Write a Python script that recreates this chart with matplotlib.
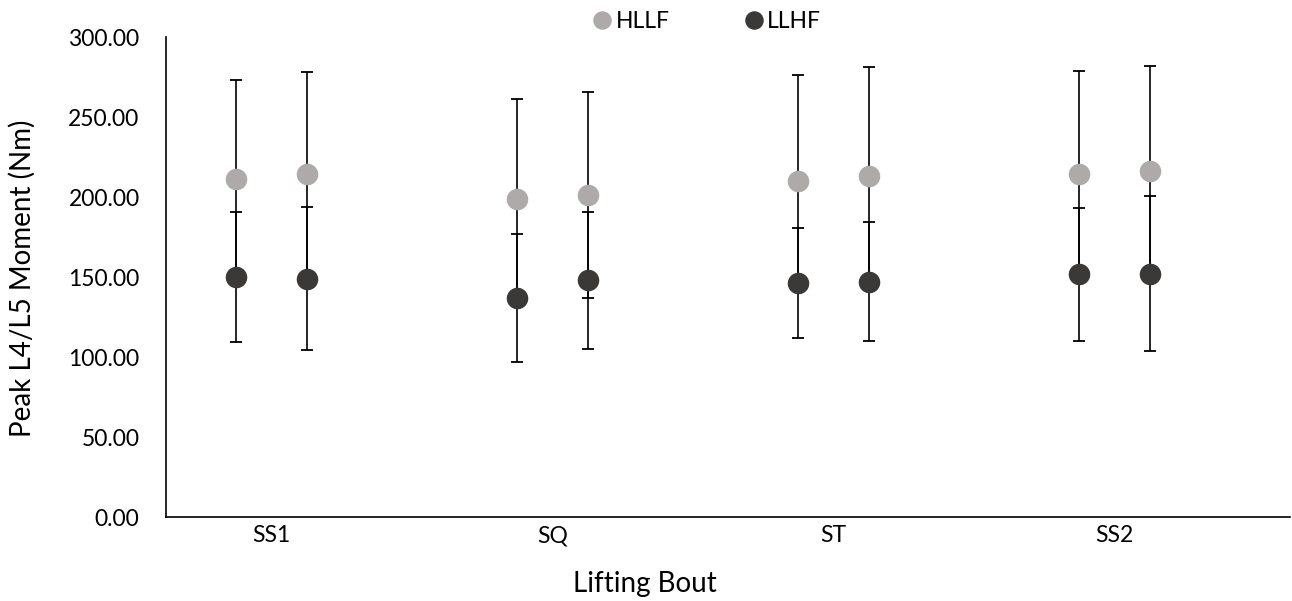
import matplotlib
matplotlib.use('Agg')
import matplotlib.pyplot as plt

# lifting bouts and the two trials per bout
bouts = ['SS1', 'SQ', 'ST', 'SS2']
x_pos = [1, 1.25, 2, 2.25, 3, 3.25, 4, 4.25]

# peak L4/L5 moment (Nm), mean and SD
hllf_mean = [211.2, 214.5, 198.5, 201.4, 210.0, 213.3, 214.1, 216.2]
hllf_sd = [61.9, 63.4, 62.9, 64.4, 66.2, 68.1, 64.6, 65.4]
llhf_mean = [150.2, 148.9, 137.0, 147.9, 146.4, 147.0, 151.6, 152.1]
llhf_sd = [40.6, 44.8, 39.9, 42.9, 34.4, 37.3, 41.8, 48.6]

grey = '#AEAAAA'
dark = '#3B3838'

plt.rcParams['font.family'] = ['Lato', 'DejaVu Sans']

fig = plt.figure(figsize=(12.92, 6.01), dpi=100)
ax = fig.add_axes([166 / 1292, 1 - 517 / 601, (1290 - 166) / 1292, 480 / 601])

err_kw = dict(fmt='none', ecolor='black', elinewidth=1.2, capsize=4.5, capthick=1.3, zorder=2)
ax.errorbar(x_pos, hllf_mean, yerr=hllf_sd, **err_kw)
ax.errorbar(x_pos, llhf_mean, yerr=llhf_sd, **err_kw)
ax.plot(x_pos, hllf_mean, 'o', color=grey, markersize=14.5, linestyle='none', label='HLLF', zorder=3)
ax.plot(x_pos, llhf_mean, 'o', color=dark, markersize=14.5, linestyle='none', label='LLHF', zorder=4)

ax.set_xlim(0.75, 4.75)
ax.set_ylim(0, 300)
ax.set_yticks(range(0, 301, 50))
ax.set_yticklabels(['%.2f' % v for v in range(0, 301, 50)], fontsize=16.5)
ax.set_xticks([1.125, 2.125, 3.125, 4.125])
ax.set_xticklabels(bouts, fontsize=16.5)
ax.tick_params(axis='y', length=0, pad=19)
ax.tick_params(axis='x', length=0, pad=6)

for s in ['top', 'right']:
    ax.spines[s].set_visible(False)
for s in ['left', 'bottom']:
    ax.spines[s].set_linewidth(1.2)

fig.text(22 / 1292, 1 - 278 / 601, 'Peak L4/L5 Moment (Nm)', rotation=90,
         ha='center', va='center', fontsize=20)
fig.text(645 / 1292, 1 - 584 / 601, 'Lifting Bout', ha='center', va='center', fontsize=20)

fig.legend(loc='center', bbox_to_anchor=(706 / 1292, 1 - 22 / 601), ncol=2, frameon=False,
           fontsize=16.5, handletextpad=0.1, columnspacing=3.15, markerscale=0.85,
           handlelength=1.0)

fig.savefig('out.png', dpi=100)
